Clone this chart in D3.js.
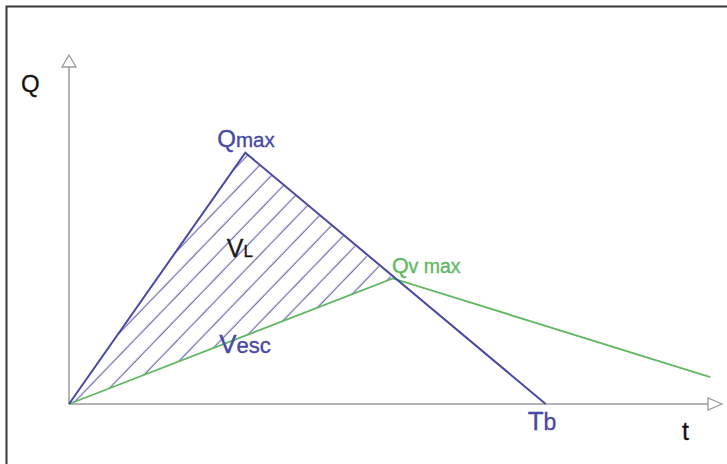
<!DOCTYPE html>
<html>
<head>
<meta charset="utf-8">
<script src="https://cdn.jsdelivr.net/npm/d3@7/dist/d3.min.js"></script>
<style>
    body { margin: 0; background: #fff; }
    text { font-family: "Liberation Sans", Arial, sans-serif; }
</style>
</head>
<body>
<div id="chart"></div>
<script>

// inflow hydrograph (blue triangle)
let inflowT = [0, 27, 73];
let inflowQ = [0, 72, 0];

// outflow / spillway hydrograph (green)
let outflowT = [0, 49.6, 98.2];
let outflowQ = [0, 36, 7.7];

// axis extents
let domainT = [0, 100];
let domainQ = [0, 100];

// labels
let axisLabels = ["Q", "t"];
let peakLabel = ["Q", "max"];
let outPeakLabel = ["Q", "v max"];
let baseLabel = ["T", "b"];
let volLabel = ["V", "L"];
let escLabel = ["V", "esc"];

let blue = "#4848a6";
let green = "#62b862";
let grey = "#9a9a9a";

let width = 727, height = 464;

let svg = d3.select("#chart").append("svg")
    .attr("width", width)
    .attr("height", height);

// frame
svg.append("rect")
    .attr("x", 6.5)
    .attr("y", 6.5)
    .attr("width", 760)
    .attr("height", 500)
    .attr("fill", "none")
    .attr("stroke", "#3a3a3a")
    .attr("stroke-width", 2);

let x = d3.scaleLinear().domain(domainT).range([69, 722]);
let y = d3.scaleLinear().domain(domainQ).range([404, 55]);

let inflow = inflowT.map((d, i) => ({t: d, q: inflowQ[i]}));
let outflow = outflowT.map((d, i) => ({t: d, q: outflowQ[i]}));

let line = d3.line()
    .x(d => x(d.t))
    .y(d => y(d.q));

// hatch pattern
let defs = svg.append("defs");
let pat = defs.append("pattern")
    .attr("id", "hatch")
    .attr("patternUnits", "userSpaceOnUse")
    .attr("width", 16)
    .attr("height", 15.6)
    .attr("patternTransform", "rotate(-46)");
pat.append("line")
    .attr("x1", -1).attr("x2", 17)
    .attr("y1", 5.2).attr("y2", 5.2)
    .attr("stroke", "#6a6aae")
    .attr("stroke-width", 1.2);

// stored volume: between rising limb, falling limb and outflow line
let hatchArea = [inflow[0], inflow[1], outflow[1]];
svg.append("path")
    .attr("d", line(hatchArea) + "Z")
    .attr("fill", "url(#hatch)")
    .attr("stroke", "none");

// axes
let x0 = x(0), y0 = y(0);
let xEnd = x(domainT[1]), yEnd = y(domainQ[1]);

svg.append("line")
    .attr("x1", x0).attr("y1", y0)
    .attr("x2", xEnd - 14).attr("y2", y0)
    .attr("stroke", grey).attr("stroke-width", 1.5);
svg.append("line")
    .attr("x1", x0).attr("y1", y0)
    .attr("x2", x0).attr("y2", yEnd + 12)
    .attr("stroke", grey).attr("stroke-width", 1.5);

// arrow heads (hollow)
svg.append("path")
    .attr("d", `M${xEnd},${y0} L${xEnd - 14},${y0 - 6} L${xEnd - 14},${y0 + 6} Z`)
    .attr("fill", "#fff").attr("stroke", grey).attr("stroke-width", 1.3);
svg.append("path")
    .attr("d", `M${x0},${yEnd} L${x0 - 7},${yEnd + 12} L${x0 + 7},${yEnd + 12} Z`)
    .attr("fill", "#fff").attr("stroke", grey).attr("stroke-width", 1.3);

// hydrographs
svg.append("path")
    .datum(outflow)
    .attr("d", line)
    .attr("fill", "none")
    .attr("stroke", green)
    .attr("stroke-width", 1.8);

svg.append("path")
    .datum(inflow)
    .attr("d", line)
    .attr("fill", "none")
    .attr("stroke", blue)
    .attr("stroke-width", 2)
    .attr("stroke-linejoin", "miter");

// two-part label: big first letter, smaller rest
function label(parts, px, py, color, s1, s2) {
    let t = svg.append("text")
        .attr("x", px)
        .attr("y", py)
        .attr("fill", color)
        .attr("stroke", color)
        .attr("stroke-width", 0.35);
    t.append("tspan").attr("font-size", s1).text(parts[0]);
    t.append("tspan").attr("font-size", s2).text(parts[1]);
    return t;
}

let peak = inflow[1], outPeak = outflow[1];

label(peakLabel, x(peak.t) - 28, y(peak.q) - 6, blue, 24, 20.5);
label(outPeakLabel, x(outPeak.t) - 1, y(outPeak.q) - 5, green, 21.5, 19.5);
label(baseLabel, x(inflow[2].t) - 18, y(0) + 26, blue, 26, 23);

// centroid of the hatched region
let cx = d3.mean(hatchArea, d => x(d.t));
let cy = d3.mean(hatchArea, d => y(d.q));
label(volLabel, cx - 9, cy - 21, "#1a1a1a", 25, 17);

// escaped volume label, sitting on the outflow line
let tEsc = 23;
label(escLabel, x(tEsc), y(outPeak.q * tEsc / outPeak.t) + 7, blue, 26, 22);

// axis titles
svg.append("text")
    .attr("x", x0 - 48).attr("y", yEnd + 37)
    .attr("font-size", 24).attr("fill", "#111")
    .attr("stroke", "#111").attr("stroke-width", 0.3)
    .text(axisLabels[0]);
svg.append("text")
    .attr("x", xEnd - 40).attr("y", y0 + 36)
    .attr("font-size", 25).attr("fill", "#111")
    .attr("stroke", "#111").attr("stroke-width", 0.3)
    .text(axisLabels[1]);

</script>
</body>
</html>
